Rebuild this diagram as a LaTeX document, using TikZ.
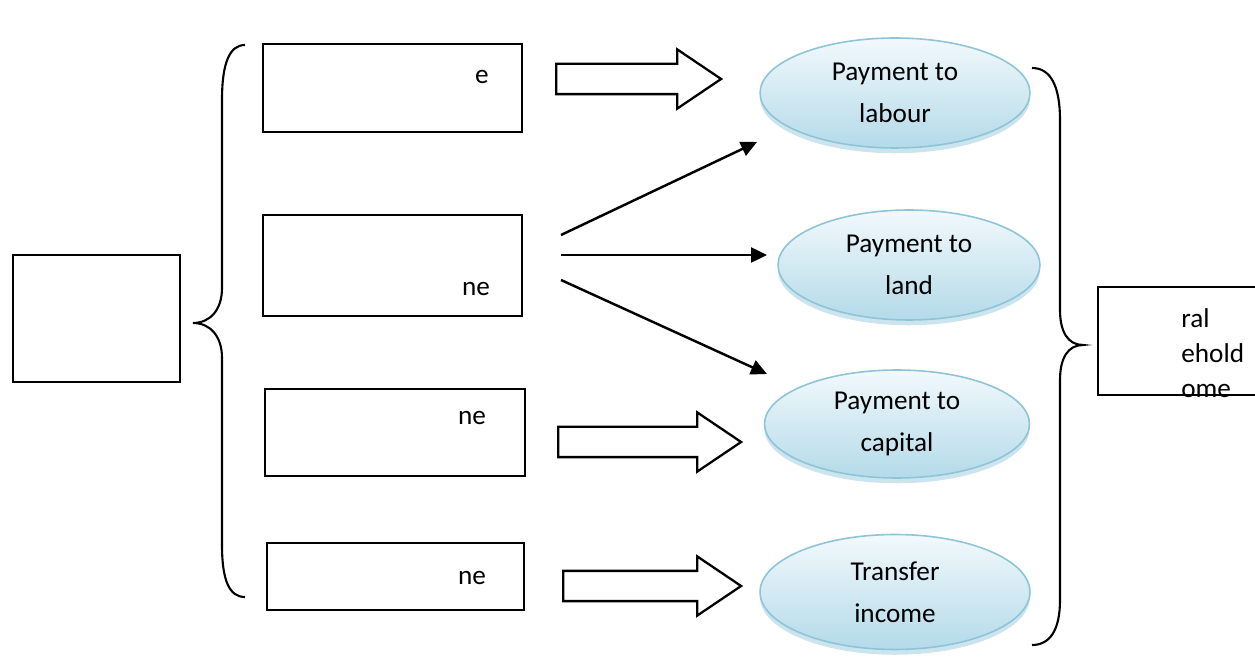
\documentclass[tikz,border=0pt]{standalone}
\usepackage{fontspec}
\setmainfont{Carlito}
\usetikzlibrary{shapes.geometric,shapes.arrows,shadows,arrows.meta}
\definecolor{ovtop}{HTML}{F2F9FC}
\definecolor{ovbot}{HTML}{B4DAE9}
\definecolor{ovedge}{HTML}{8DC4D8}
\tikzset{ bx/.style = { rectangle
                       , draw
                       , line width   = 1.3pt
                       , inner sep    = 0pt
                       },
          ov/.style = { ellipse
                       , draw         = ovedge
                       , line width   = 0.9pt
                       , top color    = ovtop
                       , bottom color = ovbot
                       , inner sep    = 0pt
                       , align        = center
                       , font         = \fontsize{15.5}{24}\selectfont
                       , drop shadow  = {shadow xshift=0pt, shadow yshift=-3pt,
                                         fill=ovedge, opacity=0.45}
                       },
          blk/.style = { single arrow
                       , draw
                       , fill         = white
                       , line width   = 1.3pt
                       , inner sep    = 0pt
                       , inner ysep   = 0.28cm
                       , anchor       = tail
                       , single arrow head extend = 0.29cm
                       , single arrow tip angle   = 68
                       },
          txt/.style = { font = \fontsize{15.5}{20}\selectfont
                       , inner sep = 0pt
                       },
          arr/.style = { line width = 1.4pt
                       , -{Triangle[length=0.32cm,width=0.3cm]}
                       }
        }

\begin{document}
\begin{tikzpicture}[x=0.02cm, y=-0.02cm]
  \useasboundingbox (0,0) rectangle (1255,668);
  \clip (0,0) rectangle (1255,668);

  % left box and the four source boxes
  \node[bx, minimum width=3.34cm, minimum height=2.54cm] (src) at (96.5,318.5) {};
  \node[bx, minimum width=5.18cm, minimum height=1.76cm] (b1) at (392.5,88) {};
  \node[bx, minimum width=5.18cm, minimum height=2.02cm] (b2) at (392.5,265.5) {};
  \node[bx, minimum width=5.20cm, minimum height=1.74cm] (b3) at (395,432.5) {};
  \node[bx, minimum width=5.14cm, minimum height=1.34cm] (b4) at (395.5,576.5) {};
  \node[txt, anchor=base] (t1) at (482,84) {e};
  \node[txt, anchor=base] (t2) at (476,296) {ne};
  \node[txt, anchor=base] (t3) at (472,425) {ne};
  \node[txt, anchor=base] (t4) at (472,585) {ne};

  % payments
  \node[ov, minimum width=5.40cm, minimum height=2.20cm] (lab) at (895,93)  {Payment to\\labour};
  \node[ov, minimum width=5.24cm, minimum height=2.20cm] (lnd) at (909,265) {Payment to\\land};
  \node[ov, minimum width=5.30cm, minimum height=2.16cm] (cap) at (897,424) {Payment to\\capital};
  \node[ov, minimum width=5.40cm, minimum height=2.30cm] (trf) at (895,592) {Transfer\\income};

  % block arrows
  \node[blk, minimum height=3.30cm] (a1) at (555,79) {};
  \node[blk, minimum height=3.66cm] (a3) at (557,442) {};
  \node[blk, minimum height=3.56cm] (a4) at (562,586) {};

  % thin arrows out of the second box
  \coordinate (s1) at (561,235);
  \coordinate (s2) at (561,255);
  \coordinate (s3) at (561,280);
  \coordinate (e1) at (757,142);
  \coordinate (e2) at (767,255);
  \coordinate (e3) at (767,374);
  \draw[arr] (s1) -- (e1);
  \draw[arr] (s2) -- (e2);
  \draw[arr] (s3) -- (e3);

  % total
  \node[bx, minimum width=3.44cm, minimum height=2.16cm] (tot) at (1184,341) {};
  \node[txt, align=left, anchor=west] (tt) at (1181,353) {ral\\ehold\\ome};

  % braces
  \coordinate (lt) at (245,45);
  \coordinate (lb) at (245,597);
  \draw[line width=1.2pt] (lt) .. controls (230,45) and (222,62) .. (222,100)
        -- (222,288) .. controls (222,310) and (210,323) .. (193,323)
        .. controls (210,323) and (222,336) .. (222,358)
        -- (222,545) .. controls (222,582) and (230,597) .. (lb);
  \coordinate (rt) at (1032,68);
  \coordinate (rb) at (1032,645);
  \draw[line width=1.2pt] (rt) .. controls (1050,68) and (1060,85) .. (1060,120)
        -- (1060,310) .. controls (1060,332) and (1068,345) .. (1083,345)
        .. controls (1068,345) and (1060,358) .. (1060,380)
        -- (1060,600) .. controls (1060,630) and (1050,645) .. (rb);
\end{tikzpicture}
\end{document}
